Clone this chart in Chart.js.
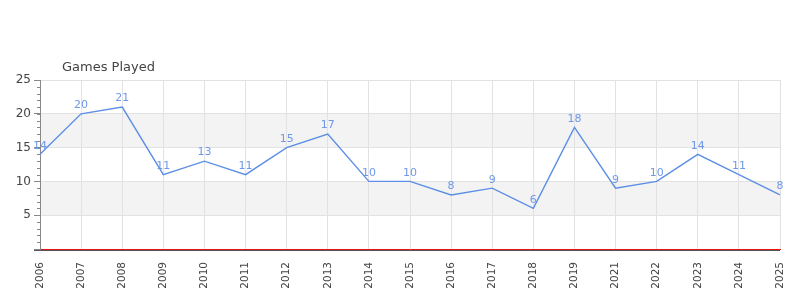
<!DOCTYPE html>
<html>
<head>
<meta charset="utf-8">
<script src="https://cdn.jsdelivr.net/npm/chart.js@4"></script>
<style>
  html, body { margin: 0; padding: 0; background: #fff; }
  #wrap { width: 800px; height: 300px; }
</style>
</head>
<body>
<div id="wrap"><canvas id="myChart" width="800" height="300"></canvas></div>
<script>
var years = ["2006", "2007", "2008", "2009", "2010", "2011", "2012", "2013", "2014", "2015",
  "2016", "2017", "2018", "2019", "2021", "2022", "2023", "2024", "2025"];
var gamesPlayed = [14, 20, 21, 11, 13, 11, 15, 17, 10, 10, 8, 9, 6, 18, 9, 10, 14, 11, 8];
var yTicks = [0, 5, 10, 15, 20, 25];
var bands = [[5, 10], [15, 20]]; // bandes grises

var lineColor = "rgb(92,142,230)";
var labelColor = "rgb(112,152,232)";
var textColor = "#444";

// bandes de fond + petites graduations + titre
var extras = {
  id: "extras",
  beforeDraw: function (chart) {
    let ctx = chart.ctx, a = chart.chartArea, y = chart.scales.y;
    ctx.save();
    ctx.fillStyle = "#f3f3f3";
    bands.forEach((b) => {
      let y1 = y.getPixelForValue(b[1]), y0 = y.getPixelForValue(b[0]);
      ctx.fillRect(a.left, y1, a.right - a.left, y0 - y1);
    });
    ctx.restore();
  },
  afterDraw: function (chart) {
    let ctx = chart.ctx, a = chart.chartArea, y = chart.scales.y;
    ctx.save();
    // petites graduations
    ctx.strokeStyle = "#888";
    ctx.lineWidth = 1;
    for (let v = 0; v <= 25; v++) {
      let py = Math.round(y.getPixelForValue(v)) + 0.5;
      ctx.beginPath();
      ctx.moveTo(a.left - 3, py);
      ctx.lineTo(a.left, py);
      ctx.stroke();
    }
    // ligne sombre sous l'axe
    ctx.strokeStyle = "#555";
    ctx.beginPath();
    ctx.moveTo(a.left - 6, Math.round(a.bottom) + 1.5);
    ctx.lineTo(a.right, Math.round(a.bottom) + 1.5);
    ctx.stroke();
    // titre
    ctx.fillStyle = textColor;
    ctx.font = "13px 'DejaVu Sans'";
    ctx.textBaseline = "alphabetic";
    ctx.fillText("Games Played", 62, 71);
    // étiquettes des valeurs
    let meta = chart.getDatasetMeta(0);
    ctx.fillStyle = labelColor;
    ctx.font = "11px 'DejaVu Sans'";
    ctx.textAlign = "center";
    ctx.textBaseline = "bottom";
    meta.data.forEach((pt, i) => {
      ctx.fillText(String(gamesPlayed[i]), pt.x, pt.y - 3);
    });
    ctx.restore();
  }
};

var ctx = document.getElementById("myChart").getContext("2d");
var chartInstance = new Chart(ctx, {
  type: "line",
  data: {
    labels: years,
    datasets: [
      {
        label: "Games Played",
        data: gamesPlayed,
        borderColor: lineColor,
        borderWidth: 1.4,
        pointRadius: 0,
        tension: 0,
        fill: false,
      },
    ],
  },
  options: {
    responsive: false,
    animation: false,
    layout: { padding: { top: 80, right: 20, left: 0, bottom: 0 } },
    plugins: {
      legend: { display: false },
      tooltip: { enabled: false },
      title: { display: false },
    },
    scales: {
      x: {
        offset: false,
        grid: { color: "#e2e2e2", tickLength: 0, drawTicks: false },
        border: { color: "#ee1111", width: 1 },
        ticks: {
          color: textColor,
          font: { family: "'DejaVu Sans'", size: 10.5 },
          minRotation: 90,
          maxRotation: 90,
          autoSkip: false,
          padding: 13,
        },
        afterFit: function (scale) {
          scale.height = 51;
          scale.paddingLeft = 0;
          scale.paddingRight = 0;
        },
      },
      y: {
        min: 0,
        max: 25,
        afterBuildTicks: function (scale) {
          scale.ticks = yTicks.map((v) => ({ value: v }));
        },
        grid: {
          color: (c) => (c.tick && c.tick.value === 0 ? "rgba(0,0,0,0)" : "#e2e2e2"),
          tickColor: "#888",
          tickLength: 6,
        },
        border: { color: "#888" },
        ticks: {
          color: textColor,
          font: { family: "'DejaVu Sans'", size: 12 },
          padding: 3,
          callback: (v) => (v === 0 ? "" : v),
        },
        afterFit: function (scale) { scale.width = 40; },
      },
    },
  },
  plugins: [extras],
});
</script>
</body>
</html>
